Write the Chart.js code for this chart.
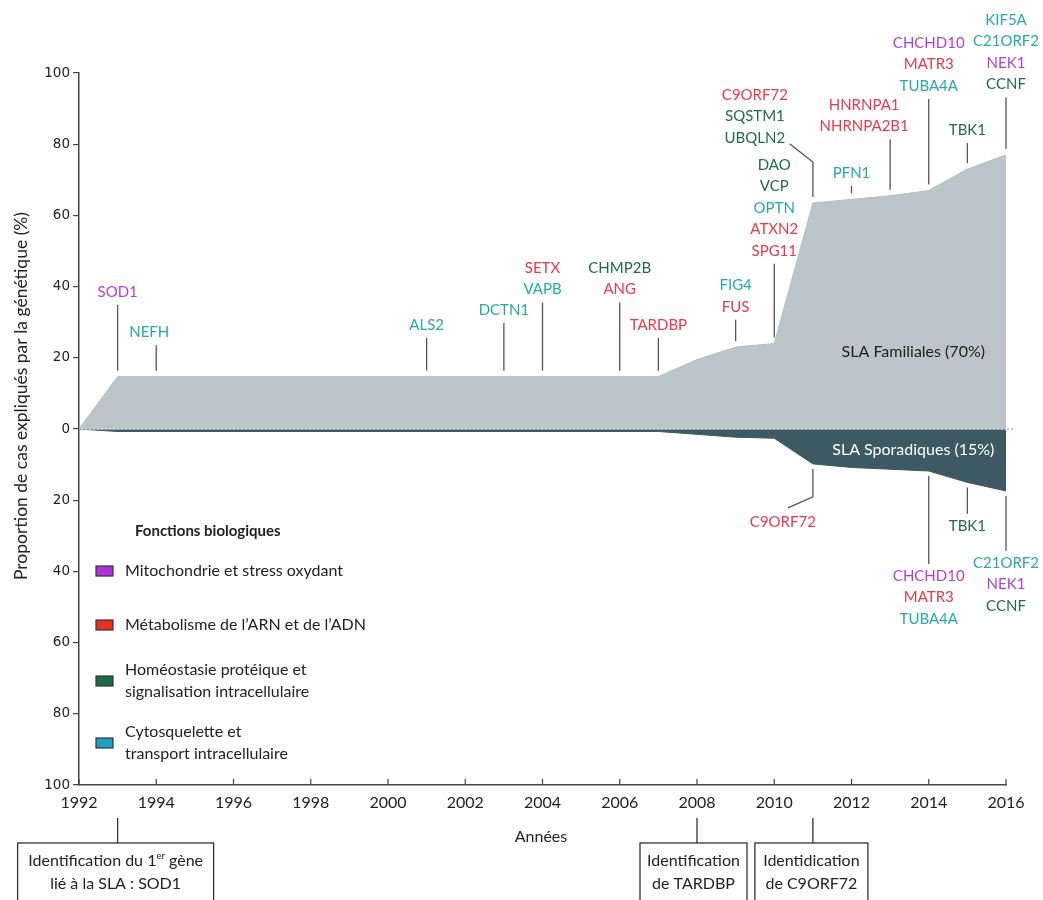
<!DOCTYPE html>
<html>
<head>
<meta charset="utf-8">
<title>SLA - genes identifies</title>
<script src="https://cdn.jsdelivr.net/npm/chart.js@4.4.1/dist/chart.umd.min.js"></script>
<style>
  body { margin: 0; background: #fff; }
</style>
</head>
<body>
<canvas id="canvas" width="1043" height="900"></canvas>
<script>
// --- data ---
const years = [1992, 1993, 1994, 1995, 1996, 1997, 1998, 1999, 2000, 2001, 2002, 2003, 2004,
  2005, 2006, 2007, 2008, 2009, 2010, 2011, 2012, 2013, 2014, 2015, 2016];
const familial = [0, 14.7, 14.7, 14.7, 14.7, 14.7, 14.7, 14.7, 14.7, 14.7, 14.7, 14.7, 14.7,
  14.7, 14.7, 14.7, 19.5, 23, 24, 63.5, 64.5, 65.5, 67, 73, 77];
const sporadic = [0, -0.7, -0.7, -0.7, -0.7, -0.7, -0.7, -0.7, -0.7, -0.7, -0.7, -0.7, -0.7,
  -0.7, -0.7, -0.7, -1.5, -2.3, -2.6, -9.8, -10.8, -11.3, -11.8, -15, -17.4];

const categories = ['Mitochondrie et stress oxydant', 'Métabolisme de l\u2019ARN et de l\u2019ADN',
  'Homéostasie protéique et\nsignalisation intracellulaire', 'Cytosquelette et\ntransport intracellulaire'];
const categoryColors = ['#b43fd6', '#e83a4c', '#1f6b4c', '#27a8aa'];
const swatchColors = ['#b030e0', '#e8321f', '#1c6a4a', '#1ea0c2'];

const geneCategory = {
  SOD1: 0, CHCHD10: 0, NEK1: 0,
  SETX: 1, ANG: 1, TARDBP: 1, FUS: 1, ATXN2: 1, SPG11: 1, C9ORF72: 1, HNRNPA1: 1, NHRNPA2B1: 1, MATR3: 1,
  CHMP2B: 2, DAO: 2, VCP: 2, SQSTM1: 2, UBQLN2: 2, TBK1: 2, CCNF: 2,
  NEFH: 3, ALS2: 3, DCTN1: 3, VAPB: 3, FIG4: 3, OPTN: 3, PFN1: 3, TUBA4A: 3, KIF5A: 3, C21ORF2: 3
};

const familialGenes = [
  [1993, ['SOD1']],
  [1994, ['NEFH']],
  [2001, ['ALS2']],
  [2003, ['DCTN1']],
  [2004, ['SETX', 'VAPB']],
  [2006, ['CHMP2B', 'ANG']],
  [2007, ['TARDBP']],
  [2009, ['FIG4', 'FUS']],
  [2010, ['DAO', 'VCP', 'OPTN', 'ATXN2', 'SPG11']],
  [2011, ['C9ORF72', 'SQSTM1', 'UBQLN2']],
  [2012, ['PFN1']],
  [2013, ['HNRNPA1', 'NHRNPA2B1']],
  [2014, ['CHCHD10', 'MATR3', 'TUBA4A']],
  [2015, ['TBK1']],
  [2016, ['KIF5A', 'C21ORF2', 'NEK1', 'CCNF']]
];
const sporadicGenes = [
  [2011, ['C9ORF72']],
  [2014, ['CHCHD10', 'MATR3', 'TUBA4A']],
  [2015, ['TBK1']],
  [2016, ['C21ORF2', 'NEK1', 'CCNF']]
];

const milestones = [
  [1993, ['Identification du 1|er| gène', 'lié à la SLA : SOD1']],
  [2008, ['Identification', 'de TARDBP']],
  [2011, ['Identidication', 'de C9ORF72']]
];

// --- label placement (first line height in axis units, x shift in px) ---
const familialLabelY = [38.5, 27.2, 29.2, 33.4, 45.2, 45.2, 29.2, 40.4, 74.2, 93.8, 71.9, 91, 108.4, 84, 114.9];
const familialLabelDx = [0, -7, 0, 0, 0, 0, 0, 0, 0, -58, 0, -26, 0, 0, 0];
const sporadicLabelY = [-26.1, -41.3, -27.2, -37.6];
const sporadicLabelDx = [-30, 0, 0, 0];
const milestoneBox = [[196, -2], [107, -3.5], [113, -1.5]];

const FONT = 'Lato, "Open Sans", sans-serif';
const LINE_H = 21.5;

const annotations = {
  id: 'annotations',
  afterDatasetsDraw(chart) {
    const { ctx, scales: { x, y } } = chart;
    ctx.save();

    // zero line, dotted
    const y0 = y.getPixelForValue(0);
    ctx.strokeStyle = '#a7afb3';
    ctx.lineWidth = 1.5;
    ctx.setLineDash([2, 2]);
    ctx.beginPath(); ctx.moveTo(x.left, y0); ctx.lineTo(x.right + 9, y0); ctx.stroke();
    ctx.strokeStyle = '#ffffff';
    ctx.lineWidth = 1;
    ctx.setLineDash([2, 2]);
    ctx.lineDashOffset = 2;
    ctx.beginPath(); ctx.moveTo(x.left, y0); ctx.lineTo(x.right, y0); ctx.stroke();
    ctx.setLineDash([]);

    // x ticks pointing up
    ctx.strokeStyle = '#444';
    ctx.lineWidth = 1.2;
    x.ticks.forEach(t => {
      const px = x.getPixelForValue(t.value);
      ctx.beginPath(); ctx.moveTo(px, y.bottom); ctx.lineTo(px, y.bottom - 6); ctx.stroke();
    });

    // area labels
    ctx.font = '16px ' + FONT;
    ctx.textAlign = 'center';
    ctx.textBaseline = 'middle';
    ctx.fillStyle = '#222';
    ctx.fillText('SLA Familiales (70%)', x.getPixelForValue(2013.6), y.getPixelForValue(21.6));
    ctx.fillStyle = '#ffffff';
    ctx.fillText('SLA Sporadiques (15%)', x.getPixelForValue(2013.6), y.getPixelForValue(-5.9));

    // gene labels
    ctx.font = '15px ' + FONT;
    ctx.strokeStyle = '#555';
    ctx.lineWidth = 1.3;
    familialGenes.forEach(([year, genes], i) => {
      const x0 = x.getPixelForValue(year);
      const cx = x0 + familialLabelDx[i];
      const ty = y.getPixelForValue(familialLabelY[i]);
      genes.forEach((g, k) => {
        ctx.fillStyle = categoryColors[geneCategory[g]];
        ctx.fillText(g, cx, ty + k * LINE_H);
      });
      const last = ty + (genes.length - 1) * LINE_H;
      const areaTop = y.getPixelForValue(familial[years.indexOf(year)]);
      ctx.beginPath();
      if (familialLabelDx[i] < -40) {
        ctx.moveTo(cx + 35, last + 6);
        ctx.lineTo(x0, last + 24);
      } else {
        ctx.moveTo(x0, last + 13);
      }
      ctx.lineTo(x0, areaTop - 6);
      ctx.stroke();
    });
    sporadicGenes.forEach(([year, genes], i) => {
      const x0 = x.getPixelForValue(year);
      const cx = x0 + sporadicLabelDx[i];
      const ty = y.getPixelForValue(sporadicLabelY[i]);
      genes.forEach((g, k) => {
        ctx.fillStyle = categoryColors[geneCategory[g]];
        ctx.fillText(g, cx, ty + k * LINE_H);
      });
      const areaBottom = y.getPixelForValue(sporadic[years.indexOf(year)]);
      ctx.beginPath();
      ctx.moveTo(x0, areaBottom + 5);
      if (sporadicLabelDx[i] < -20) {
        ctx.lineTo(x0, ty - 25);
        ctx.lineTo(cx + 5, ty - 14);
      } else {
        ctx.lineTo(x0, ty - 12);
      }
      ctx.stroke();
    });

    // legend
    ctx.textAlign = 'left';
    ctx.fillStyle = '#222';
    ctx.font = 'bold 15px ' + FONT;
    ctx.fillText('Fonctions biologiques', 135, 531);
    ctx.font = '16px ' + FONT;
    const legendY = [571, 625, 681, 743];
    categories.forEach((c, i) => {
      ctx.fillStyle = swatchColors[i];
      ctx.fillRect(96, legendY[i] - 5, 17, 10);
      ctx.strokeStyle = '#333';
      ctx.lineWidth = 1.2;
      ctx.strokeRect(96, legendY[i] - 5, 17, 10);
      ctx.fillStyle = '#222';
      const lines = c.split('\n');
      lines.forEach((l, k) => {
        ctx.fillText(l, 125, legendY[i] + (k - (lines.length - 1) / 2) * 22);
      });
    });

    // axis titles
    ctx.textAlign = 'center';
    ctx.font = '16px ' + FONT;
    ctx.fillText('Années', 541, 837);
    ctx.save();
    ctx.translate(21, 396);
    ctx.rotate(-Math.PI / 2);
    ctx.font = '17.5px ' + FONT;
    ctx.fillText('Proportion de cas expliqués par la génétique (%)', 0, 0);
    ctx.restore();

    // milestone boxes under the axis
    ctx.strokeStyle = '#333';
    ctx.lineWidth = 1.3;
    milestones.forEach(([year, lines], i) => {
      const x0 = x.getPixelForValue(year);
      const [w, dx] = milestoneBox[i];
      const cx = x0 + dx;
      ctx.beginPath(); ctx.moveTo(x0, 818); ctx.lineTo(x0, 843); ctx.stroke();
      ctx.strokeRect(cx - w / 2, 843, w, 70);
      lines.forEach((l, k) => {
        const ly = 861 + k * 23;
        const parts = l.split('|');
        if (parts.length === 1) {
          ctx.font = '16px ' + FONT;
          ctx.textAlign = 'center';
          ctx.fillText(l, cx, ly);
          return;
        }
        const fonts = ['16px ' + FONT, '9.5px ' + FONT, '16px ' + FONT];
        let total = 0;
        parts.forEach((p, j) => { ctx.font = fonts[j]; total += ctx.measureText(p).width; });
        let px = cx - total / 2;
        ctx.textAlign = 'left';
        parts.forEach((p, j) => {
          ctx.font = fonts[j];
          ctx.fillText(p, px, j === 1 ? ly - 5 : ly);
          px += ctx.measureText(p).width;
        });
      });
    });
    ctx.restore();
  }
};

const ctx = document.getElementById('canvas').getContext('2d');
new Chart(ctx, {
  type: 'line',
  data: {
    labels: years,
    datasets: [
      {
        label: 'SLA Familiales (70%)',
        data: years.map((yr, i) => ({ x: yr, y: familial[i] })),
        fill: 'origin',
        backgroundColor: '#bcc5c9',
        borderColor: '#b3bcc1',
        borderWidth: 1,
        pointRadius: 0,
        tension: 0
      },
      {
        label: 'SLA Sporadiques (15%)',
        data: years.map((yr, i) => ({ x: yr, y: sporadic[i] })),
        fill: 'origin',
        backgroundColor: '#3d5a62',
        borderColor: '#3d5a62',
        borderWidth: 1,
        pointRadius: 0,
        tension: 0
      }
    ]
  },
  options: {
    responsive: false,
    animation: false,
    devicePixelRatio: 1,
    layout: { padding: { top: 73, right: 37, left: 0, bottom: 0 } },
    plugins: { legend: { display: false }, tooltip: { enabled: false } },
    scales: {
      x: {
        type: 'linear',
        min: 1992,
        max: 2016,
        ticks: { stepSize: 2, color: '#222', font: { family: FONT, size: 16 }, padding: 8, maxRotation: 0,
          callback: v => String(v) },
        grid: { display: false, drawTicks: false },
        border: { display: true, color: '#444', width: 1.5 },
        afterFit: s => { s.height = 115; }
      },
      y: {
        min: -100,
        max: 100,
        ticks: { stepSize: 20, color: '#222', font: { family: 'DejaVu Sans', size: 13.5 }, padding: 3,
          callback: v => String(Math.abs(v)) },
        grid: { drawOnChartArea: false, drawTicks: true, tickLength: 6, color: '#444', lineWidth: 1.2 },
        border: { display: true, color: '#444', width: 1.5 },
        afterFit: s => { s.width = 79; }
      }
    }
  },
  plugins: [annotations]
});
</script>
</body>
</html>
